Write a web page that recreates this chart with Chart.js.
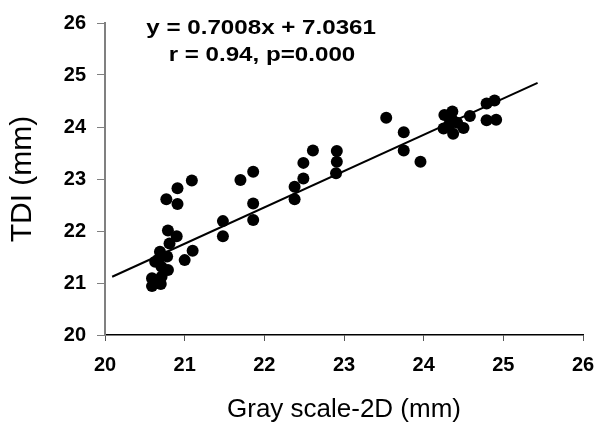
<!DOCTYPE html>
<html>
<head>
<meta charset="utf-8">
<script src="https://cdn.jsdelivr.net/npm/chart.js@4/dist/chart.umd.min.js"></script>
<style>
  html, body { margin: 0; padding: 0; background: #fff; }
  #wrap { width: 596px; height: 429px; }
</style>
</head>
<body>
<div id="wrap"><canvas id="myChart"></canvas></div>
<script>
// Gray scale-2D (x) and TDI (y)
var grayX = [23.53, 23.75, 23.75, 23.96, 24.26, 24.36, 24.35, 24.25, 24.37, 24.50, 24.58, 24.32, 24.42,
             24.79, 24.89, 24.79, 24.91, 22.61, 22.49, 22.49, 22.38, 22.38, 22.91, 22.91, 22.90,
             21.86, 21.70, 21.86, 21.86, 21.48, 21.48, 21.09, 20.91, 20.77, 20.91, 20.79, 20.90,
             21.10, 21.00, 20.81, 20.69, 20.78, 20.63, 20.71, 20.79, 20.59, 20.71, 20.59, 20.70,
             20.67, 20.64];
var tdiY  = [24.18, 23.90, 23.55, 23.33, 24.23, 24.30, 24.16, 23.97, 23.87, 23.98, 24.21, 24.05, 24.08,
             24.45, 24.51, 24.13, 24.14, 23.55, 23.31, 23.01, 22.85, 22.61, 23.54, 23.33, 23.11,
             23.14, 22.98, 22.53, 22.21, 22.19, 21.90, 22.97, 22.82, 22.61, 22.52, 22.01, 21.90,
             21.62, 21.44, 21.76, 21.60, 21.51, 21.41, 21.31, 21.25, 21.09, 21.12, 20.94, 20.98,
             21.45, 21.02];

// regression line ends
var fitX = [20.09, 25.43];
var fitY = [21.12, 24.85];

var axisTicks = [20, 21, 22, 23, 24, 25, 26];
var eqLines = ['y = 0.7008x + 7.0361', 'r = 0.94, p=0.000'];

var scatterPts = grayX.map(function(x, i) { return { x: x, y: tdiY[i] }; });
var fitPts = fitX.map(function(x, i) { return { x: x, y: fitY[i] }; });

// equation text over the plot
var equationText = {
  id: 'equationText',
  afterDatasetsDraw: function(chart) {
    var ctx = chart.ctx;
    var xs = chart.scales.x, ys = chart.scales.y;
    var pos = [[21.96, 25.9], [21.97, 25.38]];
    ctx.save();
    ctx.fillStyle = '#000';
    ctx.font = 'bold 21px "Liberation Sans", Arial, sans-serif';
    ctx.textAlign = 'center';
    ctx.textBaseline = 'middle';
    eqLines.forEach(function(t, i) {
      var px = xs.getPixelForValue(pos[i][0]);
      var py = ys.getPixelForValue(pos[i][1]);
      ctx.save();
      ctx.translate(px, py);
      ctx.scale(1.15, 1);
      ctx.fillText(t, 0, 0);
      ctx.restore();
    });
    ctx.restore();
  }
};

var tickFont = { family: '"Liberation Sans", Arial, sans-serif', size: 20, weight: 'bold' };

new Chart(document.getElementById('myChart'), {
  type: 'scatter',
  data: {
    datasets: [
      {
        label: 'fit',
        type: 'line',
        data: fitPts,
        borderColor: '#000',
        borderWidth: 2,
        pointRadius: 0,
        fill: false
      },
      {
        label: 'points',
        data: scatterPts,
        backgroundColor: '#000',
        borderColor: '#000',
        borderWidth: 0,
        pointRadius: 6
      }
    ]
  },
  options: {
    responsive: true,
    maintainAspectRatio: false,
    animation: false,
    layout: { padding: { top: 23, right: 13, left: 0, bottom: 0 } },
    plugins: { legend: { display: false }, tooltip: { enabled: false } },
    scales: {
      x: {
        type: 'linear',
        min: 20, max: 26,
        afterBuildTicks: function(s) { s.ticks = axisTicks.map(function(v) { return { value: v }; }); },
        afterFit: function(s) { s.height = 94; s.paddingRight = 13; },
        border: { color: '#000', width: 1.5 },
        grid: { drawOnChartArea: false, drawTicks: true, tickLength: 6, tickColor: '#555' },
        ticks: { color: '#000', font: tickFont, padding: 12, maxRotation: 0 },
        title: {
          display: true,
          text: 'Gray scale-2D (mm)',
          color: '#000',
          font: { family: '"Liberation Sans", Arial, sans-serif', size: 26 },
          padding: { top: 0, bottom: 4 }
        }
      },
      y: {
        type: 'linear',
        min: 20, max: 26,
        afterBuildTicks: function(s) { s.ticks = axisTicks.map(function(v) { return { value: v }; }); },
        afterFit: function(s) { s.width = 105; },
        border: { color: '#808080', width: 2 },
        grid: { drawOnChartArea: false, drawTicks: true, tickLength: 8, tickColor: '#808080' },
        ticks: { color: '#000', font: tickFont, padding: 11 },
        title: {
          display: true,
          text: 'TDI (mm)',
          color: '#000',
          font: { family: '"Liberation Sans", Arial, sans-serif', size: 30 },
          padding: { top: 5, bottom: 0 }
        }
      }
    }
  },
  plugins: [equationText]
});
</script>
</body>
</html>
